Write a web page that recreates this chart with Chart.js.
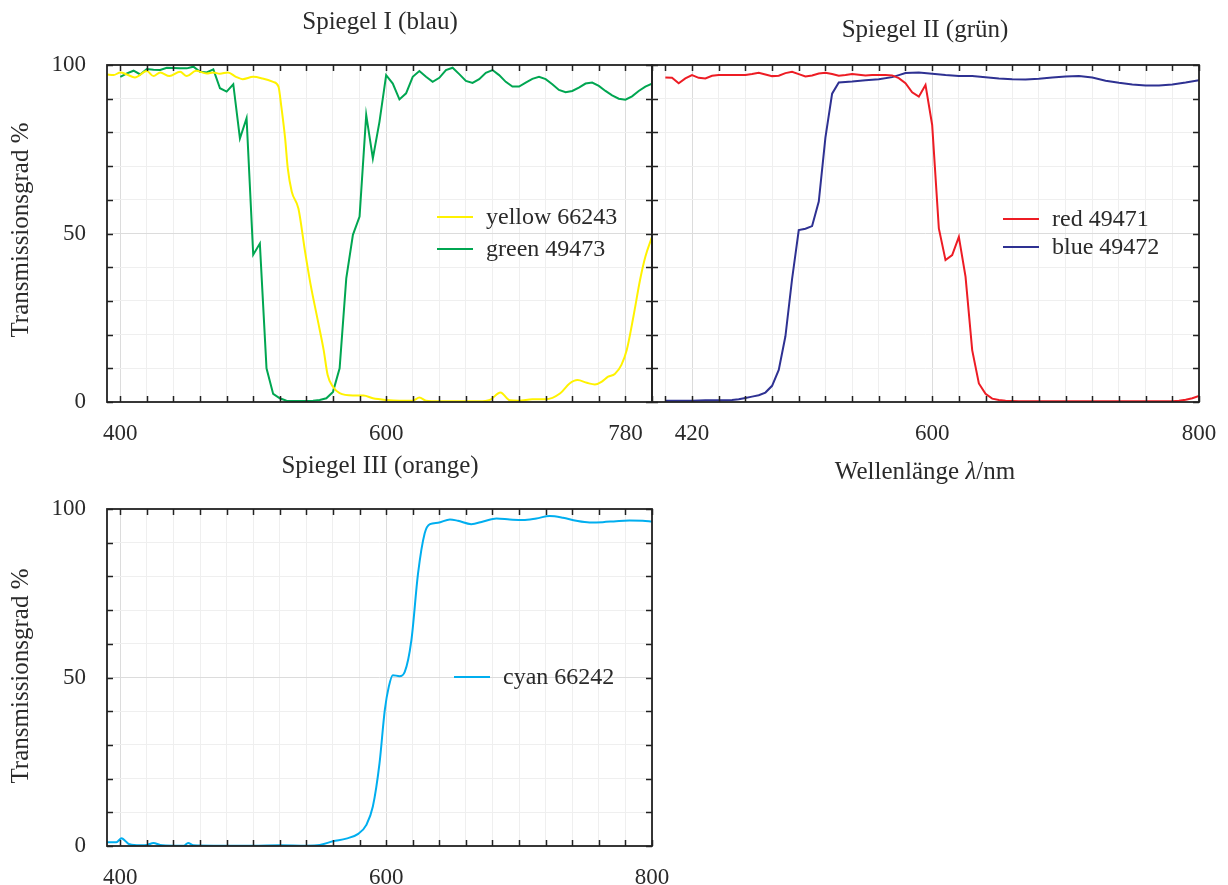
<!DOCTYPE html>
<html>
<head>
<meta charset="utf-8">
<script src="https://cdn.jsdelivr.net/npm/chart.js@4.4.1/dist/chart.umd.min.js"></script>
<style>
html, body { margin: 0; background: #fff; }
#page { position: relative; width: 1228px; height: 885px; overflow: hidden; background: #fff; }
.panel { position: absolute; }
</style>
</head>
<body>
<div id="page">
  <div class="panel" style="left:0;top:0"><canvas id="c1" width="660" height="450"></canvas></div>
  <div class="panel" style="left:640px;top:0"><canvas id="c2" width="588" height="490"></canvas></div>
  <div class="panel" style="left:0;top:445px"><canvas id="c3" width="690" height="440"></canvas></div>
</div>
<script>
// wavelength ticks (nm) and transmission ticks (%)
var X_TICKS = [400, 420, 440, 460, 480, 500, 520, 540, 560, 580, 600, 620, 640, 660, 680, 700, 720, 740, 760, 780, 800];
var Y_TICKS = [0, 10, 20, 30, 40, 50, 60, 70, 80, 90, 100];
var Y_LABELS = [0, 50, 100];
var X_LABELS_1 = [400, 600, 780];
var X_LABELS_2 = [420, 600, 800];
var X_LABELS_3 = [400, 600, 800];

// 5 nm grid of the green / red measurements
var NM_5 = [400, 405, 410, 415, 420, 425, 430, 435, 440, 445, 450, 455, 460, 465, 470, 475, 480, 485, 490, 495,
            500, 505, 510, 515, 520, 525, 530, 535, 540, 545, 550, 555, 560, 565, 570, 575, 580, 585, 590, 595,
            600, 605, 610, 615, 620, 625, 630, 635, 640, 645, 650, 655, 660, 665, 670, 675, 680, 685, 690, 695,
            700, 705, 710, 715, 720, 725, 730, 735, 740, 745, 750, 755, 760, 765, 770, 775, 780, 785, 790, 795, 800];

// Spiegel I
var YELLOW_NM = [390, 395, 400, 405, 411, 420, 425, 430, 437, 445, 450, 457, 465, 470, 475, 481, 487, 492, 500, 507,
                 515, 519, 521, 524, 526, 529, 534, 539, 543, 549, 553, 556, 560, 565, 575, 583, 590, 600, 610, 620,
                 625, 630, 640, 670, 678, 686, 693, 700, 710, 720, 731, 738, 744, 751, 757, 762, 767, 772, 777, 781,
                 786, 791, 795, 800];
var YELLOW_T = [97.2, 97.0, 97.8, 97.2, 96.3, 98.2, 96.7, 97.8, 96.7, 98.0, 96.7, 98.3, 97.5, 97.8, 97.4, 97.8, 96.5, 95.8, 96.5, 96.0,
                95.0, 93.6, 88.1, 78.2, 69.3, 62.4, 57.4, 44.6, 35.2, 23.4, 15.4, 8.0, 4.5, 2.6, 1.9, 1.9, 1.1, 0.6, 0.4, 0.4,
                1.3, 0.4, 0.2, 0.2, 0.6, 2.8, 0.5, 0.4, 0.8, 0.8, 2.6, 5.5, 6.5, 5.7, 5.2, 6.0, 7.5, 8.3, 11.0, 15.4,
                25.3, 36.2, 43.1, 49.0];
var GREEN_T = [96.5, 97.5, 98.3, 97.2, 98.8, 98.6, 98.5, 99.2, 99.1, 99.0, 99.0, 99.5, 98.0, 97.8, 98.7, 93.1, 92.1, 94.3, 78.2, 84.2,
               43.7, 47.0, 10.0, 2.4, 1.1, 0.4, 0.3, 0.3, 0.3, 0.4, 0.6, 1.1, 3.0, 10.0, 36.7, 49.6, 55.0, 85.2, 72.3, 83.2,
               97.0, 94.5, 89.8, 91.6, 96.5, 98.2, 96.5, 95.0, 96.2, 98.5, 99.2, 97.3, 95.3, 94.7, 95.8, 97.7, 98.5, 97.0, 95.0, 93.6,
               93.6, 94.8, 95.9, 96.5, 95.8, 94.3, 92.6, 91.9, 92.3, 93.3, 94.5, 94.8, 93.8, 92.3, 91.0, 90.0, 89.7, 90.7, 92.3, 93.6, 94.5];

// Spiegel II
var RED_T = [96.3, 96.2, 94.6, 96.0, 97.0, 96.2, 96.0, 96.8, 97.0, 97.0, 97.0, 97.0, 97.0, 97.3, 97.7, 97.2, 96.7, 96.8, 97.6, 98.0,
             97.3, 96.6, 96.9, 97.5, 97.7, 97.3, 96.8, 97.0, 97.3, 97.1, 96.9, 97.0, 97.0, 97.0, 96.9, 96.1, 94.6, 91.9, 90.6, 94.1,
             82.2, 51.5, 42.1, 43.6, 49.0, 37.2, 15.4, 5.5, 2.4, 1.0, 0.6, 0.4, 0.3, 0.2, 0.2, 0.2, 0.2, 0.2, 0.2, 0.2,
             0.2, 0.2, 0.2, 0.2, 0.2, 0.2, 0.2, 0.2, 0.2, 0.2, 0.2, 0.2, 0.2, 0.2, 0.2, 0.2, 0.2, 0.4, 0.7, 1.1, 1.8];
var BLUE_NM = [400, 410, 420, 430, 440, 450, 455, 460, 465, 470, 475, 480, 485, 490, 495, 500, 505, 510, 515, 520,
               525, 530, 540, 550, 560, 570, 575, 580, 590, 600, 610, 620, 630, 640, 650, 660, 670, 680, 690, 700,
               710, 720, 730, 740, 750, 760, 770, 780, 790, 800];
var BLUE_T = [0.4, 0.4, 0.4, 0.5, 0.5, 0.6, 0.8, 1.2, 1.6, 2.0, 2.8, 4.8, 9.5, 19.5, 36.5, 51.0, 51.4, 52.2, 59.5, 78.5,
              91.5, 94.8, 95.1, 95.5, 95.8, 96.4, 97.0, 97.6, 97.8, 97.4, 97.0, 96.7, 96.7, 96.4, 96.0, 95.8, 95.7, 95.9, 96.3, 96.6,
              96.7, 96.3, 95.3, 94.7, 94.2, 93.9, 93.9, 94.2, 94.8, 95.5];

// Spiegel III
var CYAN_NM = [390, 397, 401, 404, 407, 415, 420, 425, 430, 440, 448, 451, 455, 470, 500, 520, 540, 550, 560, 570,
               579, 585, 590, 595, 599, 602, 605, 610, 614, 619, 624, 629, 633, 639, 648, 654, 664, 673, 683, 693,
               703, 713, 723, 733, 743, 753, 763, 773, 783, 793, 800];
var CYAN_T = [1.1, 1.1, 2.3, 1.4, 0.5, 0.2, 0.3, 0.9, 0.3, 0.1, 0.1, 0.9, 0.2, 0.1, 0.1, 0.2, 0.1, 0.3, 1.4, 2.2,
              3.6, 6.2, 11.7, 24.5, 40.4, 47.3, 50.7, 50.4, 51.7, 61.1, 80.9, 92.8, 95.5, 95.9, 96.9, 96.5, 95.5, 96.3, 97.2, 96.9,
              96.7, 97.2, 97.9, 97.4, 96.5, 96.0, 96.1, 96.4, 96.6, 96.5, 96.3];

var COL_YELLOW = '#fff200', COL_GREEN = '#00a651', COL_RED = '#ed1c24', COL_BLUE = '#2e3192', COL_CYAN = '#00aeef';
var TEXT = '#2a2a2a', AXIS = '#222', GRID_MAJOR = '#dcdcdc', GRID_MINOR = '#efefef';
var FAMILY = '"Liberation Serif", "DejaVu Serif", serif';
var FS_TICK = 23, FS_LEGEND = 24, FS_TITLE = 25;

function pts(xs, ys) {
    return xs.map(function(x, i) { return { x: x, y: ys[i] }; });
}

function series(label, color, xs, ys, smooth) {
    return {
        label: label, data: pts(xs, ys), borderColor: color, backgroundColor: color,
        borderWidth: 2, pointRadius: 0, fill: false,
        tension: smooth ? 0.4 : 0, cubicInterpolationMode: smooth ? 'monotone' : 'default'
    };
}

function noPad(s) { s.paddingLeft = 0; s.paddingRight = 0; s.paddingTop = 0; s.paddingBottom = 0; }

function xScale(labels, height) {
    return {
        type: 'linear', min: 390, max: 800,
        afterBuildTicks: function(s) { s.ticks = X_TICKS.map(function(v) { return { value: v }; }); },
        ticks: {
            autoSkip: false, maxRotation: 0, padding: 18, color: TEXT, font: { family: FAMILY, size: FS_TICK },
            callback: function(v) { return labels.indexOf(v) >= 0 ? String(v) : ''; }
        },
        grid: {
            drawTicks: false, lineWidth: 1,
            color: function(c) { return c.tick && labels.indexOf(c.tick.value) >= 0 ? GRID_MAJOR : GRID_MINOR; }
        },
        border: { display: false },
        afterFit: function(s) { s.height = height; noPad(s); }
    };
}

function yScale(showLabels, width) {
    return {
        type: 'linear', min: 0, max: 100,
        afterBuildTicks: function(s) { s.ticks = Y_TICKS.map(function(v) { return { value: v }; }); },
        ticks: {
            display: showLabels, autoSkip: false, padding: 21, color: TEXT, font: { family: FAMILY, size: FS_TICK },
            callback: function(v) { return Y_LABELS.indexOf(v) >= 0 ? String(v) : ''; }
        },
        grid: {
            drawTicks: false, lineWidth: 1,
            color: function(c) { return c.tick && c.tick.value === 50 ? GRID_MAJOR : GRID_MINOR; }
        },
        border: { display: false },
        afterFit: function(s) { s.width = width; noPad(s); }
    };
}

// frame with inward tick marks, titles and the in-plot legend
var framePlugin = {
    id: 'frame',
    afterDraw: function(chart, args, o) {
        var ctx = chart.ctx, a = chart.chartArea, xs = chart.scales.x, ys = chart.scales.y;
        var T = 6;
        ctx.save();
        ctx.strokeStyle = AXIS;
        ctx.lineWidth = 1.5;
        ctx.beginPath();
        xs.ticks.forEach(function(t) {
            var px = Math.round(xs.getPixelForValue(t.value)) + 0.5;
            ctx.moveTo(px, a.bottom); ctx.lineTo(px, a.bottom - T);
            ctx.moveTo(px, a.top); ctx.lineTo(px, a.top + T);
        });
        ys.ticks.forEach(function(t) {
            var py = Math.round(ys.getPixelForValue(t.value)) + 0.5;
            ctx.moveTo(a.left, py); ctx.lineTo(a.left + T, py);
            ctx.moveTo(a.right, py); ctx.lineTo(a.right - T, py);
        });
        ctx.stroke();
        ctx.lineWidth = 1.8;
        ctx.strokeRect(a.left, a.top, a.right - a.left, a.bottom - a.top);

        var up = FS_TITLE + 'px ' + FAMILY, it = 'italic ' + FS_TITLE + 'px ' + FAMILY;
        ctx.fillStyle = TEXT;
        ctx.font = up;
        ctx.textAlign = 'center';
        ctx.textBaseline = 'middle';
        if (o.title) ctx.fillText(o.title, o.titleX, o.titleY);
        if (o.yTitle) {
            ctx.save();
            ctx.translate(o.yTitleX, o.yTitleY);
            ctx.rotate(-Math.PI / 2);
            ctx.fillText(o.yTitle, 0, 0);
            ctx.restore();
        }
        if (o.xTitle) {
            // "Wellenlänge λ/nm" with an italic lambda
            var p1 = 'Wellenlänge ', p2 = 'λ', p3 = '/nm';
            ctx.font = up; var w1 = ctx.measureText(p1).width, w3 = ctx.measureText(p3).width;
            ctx.font = it; var w2 = ctx.measureText(p2).width;
            var x0 = o.xTitleX - (w1 + w2 + w3) / 2;
            ctx.textAlign = 'left';
            ctx.font = up; ctx.fillText(p1, x0, o.xTitleY);
            ctx.font = it; ctx.fillText(p2, x0 + w1, o.xTitleY);
            ctx.font = up; ctx.fillText(p3, x0 + w1 + w2, o.xTitleY);
        }
        ctx.font = FS_LEGEND + 'px ' + FAMILY;
        ctx.textAlign = 'left';
        (o.legendRows || []).forEach(function(y, i) {
            var ds = chart.data.datasets[i];
            ctx.strokeStyle = ds.borderColor;
            ctx.lineWidth = 2;
            ctx.beginPath();
            ctx.moveTo(o.legendX, y); ctx.lineTo(o.legendX + 36, y);
            ctx.stroke();
            ctx.fillStyle = TEXT;
            ctx.fillText(ds.label, o.legendX + 49, y + 1);
        });
        ctx.restore();
    }
};

function makeChart(id, datasets, xs, ys, padding, frame) {
    return new Chart(document.getElementById(id).getContext('2d'), {
        type: 'line',
        data: { datasets: datasets },
        options: {
            responsive: false, animation: false, devicePixelRatio: 1,
            layout: { padding: padding },
            scales: { x: xs, y: ys },
            plugins: { legend: { display: false }, tooltip: { enabled: false }, title: { display: false }, frame: frame }
        },
        plugins: [framePlugin]
    });
}

// Spiegel I (blau): plot area 107..652 x 65..402
makeChart('c1', [
    series('yellow 66243', COL_YELLOW, YELLOW_NM, YELLOW_T, true),
    series('green 49473', COL_GREEN, NM_5, GREEN_T, false)
], xScale(X_LABELS_1, 48), yScale(true, 107), { left: 0, right: 8, top: 65, bottom: 0 }, {
    title: 'Spiegel I (blau)', titleX: 380, titleY: 22,
    yTitle: 'Transmissionsgrad %', yTitleX: 21, yTitleY: 230,
    legendX: 437, legendRows: [217, 249]
});

// Spiegel II (grün): plot area 652..1199 x 65..402, canvas starts at 640
makeChart('c2', [
    series('red 49471', COL_RED, NM_5, RED_T, false),
    series('blue 49472', COL_BLUE, BLUE_NM, BLUE_T, false)
], xScale(X_LABELS_2, 88), yScale(false, 0), { left: 12, right: 29, top: 65, bottom: 0 }, {
    title: 'Spiegel II (grün)', titleX: 285, titleY: 30,
    xTitle: true, xTitleX: 285, xTitleY: 472,
    legendX: 363, legendRows: [219, 247]
});

// Spiegel III (orange): plot area 107..652 x 509..846, canvas starts at 445
makeChart('c3', [
    series('cyan 66242', COL_CYAN, CYAN_NM, CYAN_T, true)
], xScale(X_LABELS_3, 39), yScale(true, 107), { left: 0, right: 38, top: 64, bottom: 0 }, {
    title: 'Spiegel III (orange)', titleX: 380, titleY: 21,
    yTitle: 'Transmissionsgrad %', yTitleX: 21, yTitleY: 231,
    legendX: 454, legendRows: [232]
});
</script>
</body>
</html>
